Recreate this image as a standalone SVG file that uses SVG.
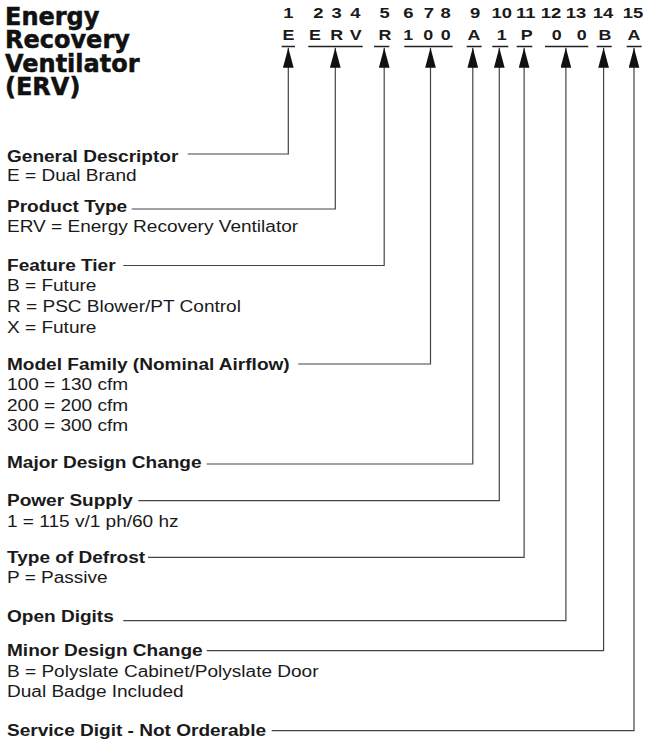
<svg xmlns="http://www.w3.org/2000/svg" width="647" height="752" viewBox="0 0 647 752">
<defs>
<style>
.title{font-family:"DejaVu Sans",sans-serif;font-weight:bold;font-size:24px;fill:#111;stroke:#111;stroke-width:0.5}
.hd{font-family:"Liberation Sans",Arial,sans-serif;font-weight:bold;font-size:15.5px;fill:#1a1a1a;text-anchor:middle}
.hl{font-family:"Liberation Sans",Arial,sans-serif;font-weight:bold;font-size:15px;fill:#1a1a1a;text-anchor:middle}
.lb{font-family:"Liberation Sans",Arial,sans-serif;font-weight:bold;font-size:16px;fill:#1a1a1a}
.ds{font-family:"Liberation Sans",Arial,sans-serif;font-size:16px;fill:#1a1a1a}
.ul{stroke:#222;stroke-width:1.3;fill:none}
.cn{stroke:#444;stroke-width:1.2;fill:none;marker-end:url(#arr)}
</style>
<marker id="arr" markerUnits="userSpaceOnUse" markerWidth="21" markerHeight="11" refX="20" refY="5.35" orient="auto">
<path d="M0,0 L20,5.35 L0,10.7 z" fill="#111"/>
</marker>
</defs>
<rect width="647" height="752" fill="#fff"/>
<g id="title">
<text class="title" x="5" y="25">Energy</text>
<text class="title" x="5" y="48.3">Recovery</text>
<text class="title" x="5" y="71.7">Ventilator</text>
<text class="title" x="5" y="95">(ERV)</text>
</g>
<g id="header">
<g transform="scale(1.19,1)">
<text class="hd" x="242.3" y="18.5">1</text>
<text class="hd" x="267.5" y="18.5">2</text>
<text class="hd" x="282.9" y="18.5">3</text>
<text class="hd" x="298.7" y="18.5">4</text>
<text class="hd" x="323.3" y="18.5">5</text>
<text class="hd" x="343.1" y="18.5">6</text>
<text class="hd" x="360.5" y="18.5">7</text>
<text class="hd" x="374.5" y="18.5">8</text>
<text class="hd" x="399.2" y="18.5">9</text>
<text class="hd" x="421.6" y="18.5">10</text>
<text class="hd" x="441.8" y="18.5">11</text>
<text class="hd" x="463.0" y="18.5">12</text>
<text class="hd" x="484.0" y="18.5">13</text>
<text class="hd" x="506.7" y="18.5">14</text>
<text class="hd" x="532.0" y="18.5">15</text>
<text class="hl" x="242.4" y="40">E</text>
<text class="hl" x="264.7" y="40">E</text>
<text class="hl" x="282.9" y="40">R</text>
<text class="hl" x="298.9" y="40">V</text>
<text class="hl" x="323.5" y="40">R</text>
<text class="hl" x="343.1" y="40">1</text>
<text class="hl" x="359.9" y="40">0</text>
<text class="hl" x="374.5" y="40">0</text>
<text class="hl" x="398.3" y="40">A</text>
<text class="hl" x="421.6" y="40">1</text>
<text class="hl" x="442.6" y="40">P</text>
<text class="hl" x="467.8" y="40">0</text>
<text class="hl" x="488.8" y="40">0</text>
<text class="hl" x="508.4" y="40">B</text>
<text class="hl" x="532.8" y="40">A</text>
</g>
<path class="ul" d="M281.7,46.5H295 M308.3,46.5H362.7 M374,46.5H389.3 M404.3,46.5H452.7 M466.7,46.5H481.7 M492.3,46.5H508.3 M516.7,46.5H532.3 M545,46.5H588.3 M596.7,46.5H611.7 M626.7,46.5H641.7"/>
</g>
<g id="general-descriptor" transform="translate(7,0) scale(1.19,1)">
<text class="lb" x="0" y="162.5">General Descriptor</text>
<text class="ds" x="0" y="181.5">E = Dual Brand</text>
</g>
<g id="product-type" transform="translate(7,0) scale(1.19,1)">
<text class="lb" x="0" y="212.5">Product Type</text>
<text class="ds" x="0" y="232">ERV = Energy Recovery Ventilator</text>
</g>
<g id="feature-tier" transform="translate(7,0) scale(1.19,1)">
<text class="lb" x="0" y="271.5">Feature Tier</text>
<text class="ds" x="0" y="291.5">B = Future</text>
<text class="ds" x="0" y="312.3">R = PSC Blower/PT Control</text>
<text class="ds" x="0" y="333">X = Future</text>
</g>
<g id="model-family" transform="translate(7,0) scale(1.19,1)">
<text class="lb" x="0" y="370">Model Family (Nominal Airflow)</text>
<text class="ds" x="0" y="390.5">100 = 130 cfm</text>
<text class="ds" x="0" y="411">200 = 200 cfm</text>
<text class="ds" x="0" y="431.5">300 = 300 cfm</text>
</g>
<g id="major-design-change" transform="translate(7,0) scale(1.19,1)">
<text class="lb" x="0" y="468.3">Major Design Change</text>
</g>
<g id="power-supply" transform="translate(7,0) scale(1.19,1)">
<text class="lb" x="0" y="506.5">Power Supply</text>
<text class="ds" x="0" y="527">1 = 115 v/1 ph/60 hz</text>
</g>
<g id="type-of-defrost" transform="translate(7,0) scale(1.19,1)">
<text class="lb" x="0" y="563.3">Type of Defrost</text>
<text class="ds" x="0" y="583.3">P = Passive</text>
</g>
<g id="open-digits" transform="translate(7,0) scale(1.19,1)">
<text class="lb" x="0" y="622.5">Open Digits</text>
</g>
<g id="minor-design-change" transform="translate(7,0) scale(1.19,1)">
<text class="lb" x="0" y="656.5">Minor Design Change</text>
<text class="ds" x="0" y="676.7">B = Polyslate Cabinet/Polyslate Door</text>
<text class="ds" x="0" y="697.3">Dual Badge Included</text>
</g>
<g id="service-digit" transform="translate(7,0) scale(1.19,1)">
<text class="lb" x="0" y="736">Service Digit - Not Orderable</text>
</g>
<g id="connectors">
<path class="cn" d="M187.7,154H288.3V47.7"/>
<path class="cn" d="M131.7,209H335.3V47.7"/>
<path class="cn" d="M123.3,265.5H384.2V47.7"/>
<path class="cn" d="M298.3,364H430.5V47.7"/>
<path class="cn" d="M206.7,464H472.8V47.7"/>
<path class="cn" d="M138.3,500.7H499.3V47.7"/>
<path class="cn" d="M148,557.3H524.1V47.7"/>
<path class="cn" d="M123.3,620.7H565.9V47.7"/>
<path class="cn" d="M206.7,650.7H603.6V47.7"/>
<path class="cn" d="M271.7,730.7H634V47.7"/>
</g>
</svg>
